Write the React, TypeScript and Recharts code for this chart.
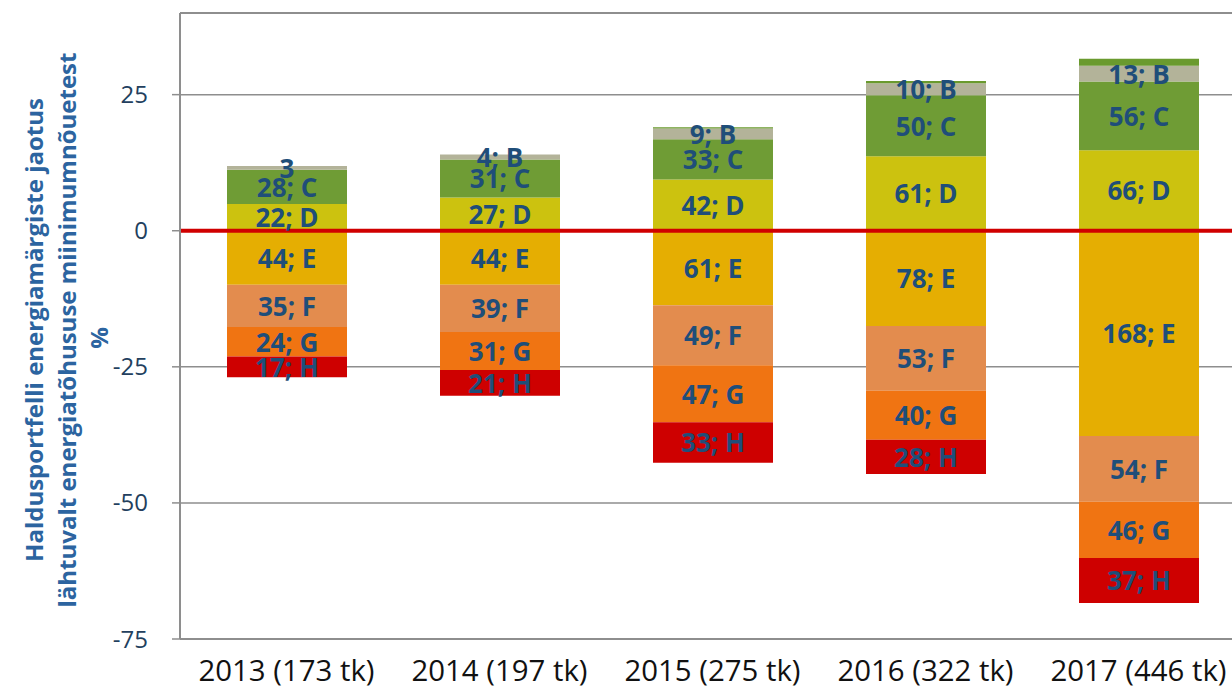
import { BarChart, Bar, XAxis, YAxis, CartesianGrid, ReferenceLine, LabelList } from 'recharts';

const YEARS = ['2013 (173 tk)', '2014 (197 tk)', '2015 (275 tk)', '2016 (322 tk)', '2017 (446 tk)'];

// share of each energy class, % (negative = below the minimum requirement)
const SHARE_A = [0, 0, 0.2, 0.4, 1.3];
const SHARE_B = [0.7, 0.9, 2.0, 2.2, 2.9];
const SHARE_C = [6.3, 7.0, 7.4, 11.2, 12.6];
const SHARE_D = [4.9, 6.1, 9.4, 13.7, 14.8];
const SHARE_E = [-9.9, -9.9, -13.7, -17.5, -37.7];
const SHARE_F = [-7.8, -8.7, -11.0, -11.9, -12.1];
const SHARE_G = [-5.4, -7.0, -10.5, -9.0, -10.3];
const SHARE_H = [-3.8, -4.7, -7.4, -6.3, -8.3];

const LABELS_B = ['3', '4; B', '9; B', '10; B', '13; B'];
const LABELS_C = ['28; C', '31; C', '33; C', '50; C', '56; C'];
const LABELS_D = ['22; D', '27; D', '42; D', '61; D', '66; D'];
const LABELS_E = ['44; E', '44; E', '61; E', '78; E', '168; E'];
const LABELS_F = ['35; F', '39; F', '49; F', '53; F', '54; F'];
const LABELS_G = ['24; G', '31; G', '47; G', '40; G', '46; G'];
const LABELS_H = ['17; H', '21; H', '33; H', '28; H', '37; H'];

const Y_TICKS = [-75, -50, -25, 0, 25];

// stacking order matters with stackOffset="sign": positives build up from 0, negatives down
const SERIES = [
  { key: 'd', values: SHARE_D, labels: LABELS_D, color: '#CCC20F' },
  { key: 'c', values: SHARE_C, labels: LABELS_C, color: '#6F9C35' },
  { key: 'b', values: SHARE_B, labels: LABELS_B, color: '#B3B399' },
  { key: 'a', values: SHARE_A, labels: null, color: '#6A9A2E' },
  { key: 'e', values: SHARE_E, labels: LABELS_E, color: '#E5AE02' },
  { key: 'f', values: SHARE_F, labels: LABELS_F, color: '#E38C4E' },
  { key: 'g', values: SHARE_G, labels: LABELS_G, color: '#F07412' },
  { key: 'h', values: SHARE_H, labels: LABELS_H, color: '#CE0000' },
];

const data = YEARS.map((year, i) => {
  const row: Record<string, string | number> = { year };
  SERIES.forEach((s) => {
    row[s.key] = s.values[i];
  });
  return row;
});

const LABEL_COLOR = '#1F4E79';
const GRID = '#8E8E8E';

function makeSegmentLabel(labels: string[]) {
  return (props: any) => {
    const { x, y, width, height, index } = props;
    const cx = Number(x) + Number(width) / 2;
    const cy = Number(y) + Number(height) / 2;
    return (
      <text
        x={cx}
        y={cy}
        textAnchor="middle"
        dominantBaseline="central"
        fill={LABEL_COLOR}
        fontFamily="'Open Sans', sans-serif"
        fontWeight={700}
        fontSize={26}
      >
        {labels[index]}
      </text>
    );
  };
}

function YearTick(props: any) {
  const { x, y, payload } = props;
  return (
    <text
      x={x}
      y={y + 42}
      textAnchor="middle"
      fill="#111"
      fontFamily="'Open Sans', sans-serif"
      fontSize={29}
      textLength={176}
      lengthAdjust="spacingAndGlyphs"
    >
      {payload.value}
    </text>
  );
}

function YTitle() {
  const style = { fontFamily: "'Open Sans', sans-serif", fontWeight: 700, fontSize: 24, fill: '#2C64A0' };
  return (
    <g>
      <text x={33} y={330} transform="rotate(-90 33 330)" textAnchor="middle" dominantBaseline="central" style={style}>
        Haldusportfelli energiamärgiste jaotus
      </text>
      <text x={66} y={330} transform="rotate(-90 66 330)" textAnchor="middle" dominantBaseline="central" style={style}>
        lähtuvalt energiatõhususe miinimumnõuetest
      </text>
      <text x={98} y={338} transform="rotate(-90 98 338)" textAnchor="middle" dominantBaseline="central" style={style}>
        %
      </text>
    </g>
  );
}

export default function App() {
  return (
    <div style={{ position: 'absolute', left: 0, top: 0, width: 1232, height: 690, overflow: 'hidden', background: '#fff' }}>
      <BarChart
        width={1260}
        height={690}
        data={data}
        stackOffset="sign"
        barSize={120}
        margin={{ top: 13, right: 15, left: 0, bottom: 0 }}
      >
        <CartesianGrid vertical={false} stroke={GRID} strokeWidth={1.5} />
        <XAxis
          dataKey="year"
          height={51}
          tickSize={0}
          tickMargin={0}
          tick={<YearTick />}
          axisLine={{ stroke: GRID, strokeWidth: 2 }}
          tickLine={false}
          interval={0}
        />
        <YAxis
          width={180}
          domain={[-75, 40]}
          ticks={Y_TICKS}
          allowDataOverflow
          tickSize={8}
          tickMargin={24}
          axisLine={{ stroke: GRID, strokeWidth: 2 }}
          tickLine={{ stroke: GRID, strokeWidth: 1.5 }}
          tick={{ fill: '#233F5E', fontSize: 24, fontFamily: "'Open Sans', sans-serif" }}
          label={<YTitle />}
        />
        <ReferenceLine y={40} stroke={GRID} strokeWidth={2} />
        {SERIES.map((s) => (
          <Bar key={s.key} dataKey={s.key} stackId="all" fill={s.color} isAnimationActive={false}>
            {s.labels && <LabelList dataKey={s.key} content={makeSegmentLabel(s.labels)} />}
          </Bar>
        ))}
        <ReferenceLine y={0} stroke="#D00000" strokeWidth={4} />
      </BarChart>
    </div>
  );
}
